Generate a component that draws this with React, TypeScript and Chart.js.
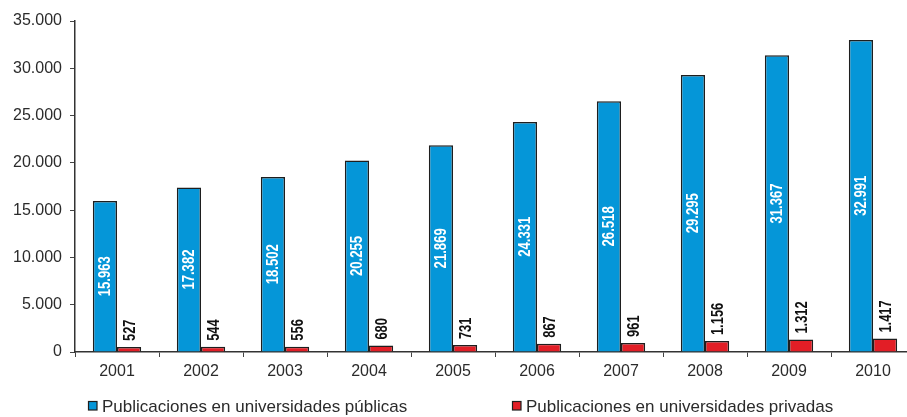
import React, { useEffect, useRef } from "react";
import { Chart, registerables } from "chart.js";

Chart.register(...registerables);

const years = ["2001", "2002", "2003", "2004", "2005", "2006", "2007", "2008", "2009", "2010"];
const publicas = [15963, 17382, 18502, 20255, 21869, 24331, 26518, 29295, 31367, 32991];
const privadas = [527, 544, 556, 680, 731, 867, 961, 1156, 1312, 1417];
const seriesNames = ["Publicaciones en universidades públicas", "Publicaciones en universidades privadas"];
const yMax = 35000;
const yStep = 5000;

const BLUE = "#0596d8";
const RED = "#e21e26";
const EDGE = "#1e1e1e";
const TEXT = "#2b2b2b";

const fmt = (n: number) => String(Math.round(n)).replace(/\B(?=(\d{3})+(?!\d))/g, ".");

const SANS = '"Liberation Sans", Arial, sans-serif';

const labelPlugin = {
  id: "barLabels",
  afterDatasetsDraw(chart: any) {
    const ctx = chart.ctx;
    ctx.save();
    const m0 = chart.getDatasetMeta(0);
    m0.data.forEach((bar: any, i: number) => {
      const midY = (bar.y + bar.base) / 2;
      ctx.save();
      ctx.translate(bar.x, midY);
      ctx.rotate(-Math.PI / 2);
      ctx.scale(0.82, 1);
      ctx.fillStyle = "#ffffff";
      ctx.font = "bold 16px " + SANS;
      ctx.textAlign = "center";
      ctx.textBaseline = "middle";
      ctx.fillText(fmt(publicas[i]), 0, 1);
      ctx.restore();
    });
    const m1 = chart.getDatasetMeta(1);
    m1.data.forEach((bar: any, i: number) => {
      ctx.save();
      ctx.translate(bar.x, bar.y - 6);
      ctx.rotate(-Math.PI / 2);
      ctx.scale(0.76, 1);
      ctx.fillStyle = "#111111";
      ctx.font = "bold 17px " + SANS;
      ctx.textAlign = "left";
      ctx.textBaseline = "middle";
      ctx.fillText(fmt(privadas[i]), 0, 1);
      ctx.restore();
    });
    // legend
    const items = [
      { x: 88, color: BLUE, text: seriesNames[0] },
      { x: 512, color: RED, text: seriesNames[1] },
    ];
    items.forEach((it) => {
      ctx.fillStyle = it.color;
      ctx.fillRect(it.x, 401, 9, 9);
      ctx.strokeStyle = EDGE;
      ctx.lineWidth = 1.2;
      ctx.strokeRect(it.x + 0.5, 401.5, 8.5, 8.5);
      ctx.fillStyle = TEXT;
      ctx.font = "17px " + SANS;
      ctx.textAlign = "left";
      ctx.textBaseline = "alphabetic";
      ctx.fillText(it.text, it.x + 14, 412);
    });
    ctx.restore();
  },
};

export default function App() {
  const ref = useRef<HTMLCanvasElement | null>(null);
  useEffect(() => {
    if (!ref.current) return;
    const chart = new Chart(ref.current, {
      type: "bar",
      data: {
        labels: years,
        datasets: [
          {
            label: seriesNames[0],
            data: publicas,
            backgroundColor: BLUE,
            borderColor: EDGE,
            borderWidth: 1.5,
            categoryPercentage: 0.575,
            barPercentage: 1.0,
          },
          {
            label: seriesNames[1],
            data: privadas,
            backgroundColor: RED,
            borderColor: EDGE,
            borderWidth: 1.5,
            categoryPercentage: 0.575,
            barPercentage: 1.0,
          },
        ],
      },
      options: {
        responsive: false,
        animation: false,
        layout: { padding: { left: 0, top: 21, right: 5, bottom: 32 } },
        plugins: { legend: { display: false }, tooltip: { enabled: false } },
        scales: {
          x: {
            offset: true,
            grid: { display: true, drawOnChartArea: false, drawTicks: true, tickLength: 5, color: "#444", offset: true },
            border: { display: true, color: "#333", width: 1.5 },
            ticks: { color: TEXT, padding: 5, font: { family: SANS, size: 16 } },
            afterFit: (s: any) => { s.height = 33; },
          },
          y: {
            min: 0,
            max: yMax,
            grid: { display: true, drawOnChartArea: false, drawTicks: true, tickLength: 5, color: "#444" },
            border: { display: true, color: "#333", width: 1.5 },
            ticks: {
              stepSize: yStep,
              color: TEXT,
              padding: 8,
              font: { family: SANS, size: 16 },
              callback: (v: any) => fmt(Number(v)),
            },
            afterFit: (s: any) => { s.width = 75; },
          },
        },
      },
      plugins: [labelPlugin],
    });
    return () => chart.destroy();
  }, []);
  return (
    <div style={{ position: "fixed", left: 0, top: 0, width: 907, height: 417, overflow: "hidden", background: "#fff" }}>
      <canvas ref={ref} width={920} height={417} style={{ width: 920, height: 417, display: "block" }} />
    </div>
  );
}
